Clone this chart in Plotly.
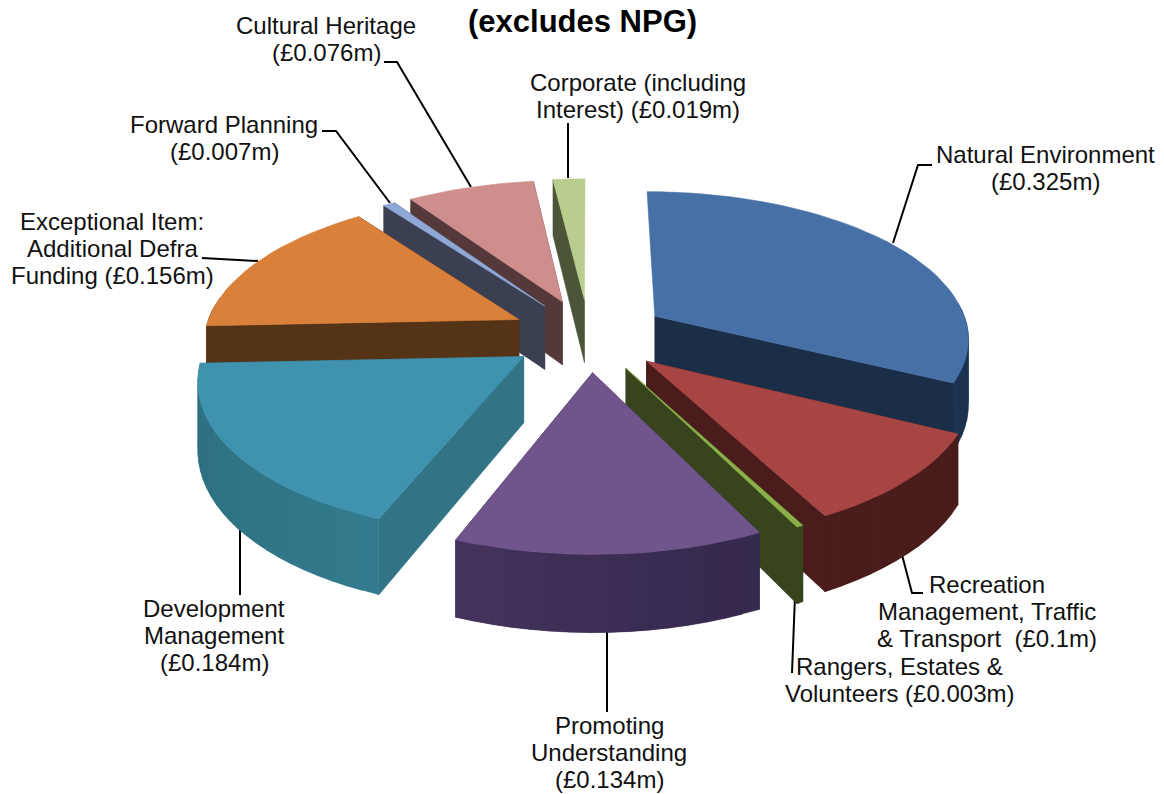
import math
import plotly.graph_objects as go

categories = ["Natural Environment", "Recreation Management, Traffic & Transport",
              "Rangers, Estates & Volunteers", "Promoting Understanding",
              "Development Management", "Exceptional Item: Additional Defra Funding",
              "Forward Planning", "Cultural Heritage", "Corporate (including Interest)"]
values = [0.325, 0.1, 0.003, 0.134, 0.184, 0.156, 0.007, 0.076, 0.019]
top_colors = ["#4670A6", "#A64543", "#8BB04A", "#6F558C", "#3F93AE", "#D9803A", "#8FA8D6", "#CD8E8C", "#B9CE8E"]
wall_light = ["#1A2E48", "#4A1C1B", "#38441D", "#4F3A6B", "#3F92AD", "#543317", "#3A4052", "#55393A", "#4D5538"]
wall_dark = ["#1C3350", "#4A1C1B", "#38441D", "#2A2240", "#2E7080", "#543317", "#3A4052", "#55393A", "#4D5538"]
cut_colors = ["#1A2E48", "#4A1C1B", "#38441D", "#3B2F55", "#327486", "#543317", "#3A4052", "#55393A", "#4D5538"]
label_lines = [["Natural Environment", "(£0.325m)"],
               ["Recreation", "Management, Traffic", "&amp; Transport  (£0.1m)"],
               ["Rangers, Estates &amp;", "Volunteers (£0.003m)"],
               ["Promoting", "Understanding", "(£0.134m)"],
               ["Development", "Management", "(£0.184m)"],
               ["Exceptional Item:", "Additional Defra", "Funding (£0.156m)"],
               ["Forward Planning", "(£0.007m)"],
               ["Cultural Heritage", "(£0.076m)"],
               ["Corporate (including", "Interest) (£0.019m)"]]
label_xy = [(1045, 154), (987, 584), (899, 666), (609, 725), (214, 608),
            (112, 221), (224, 124), (326, 25), (638, 82)]
leaders = [[(932, 165), (918, 165), (893, 243)],
           [(923, 593), (912, 593), (901, 551)],
           [(792, 673), (795, 596)],
           [(607, 712), (607, 626)],
           [(240, 595), (240, 520)],
           [(202, 258), (258, 261)],
           [(322, 131), (336, 131), (390, 203)],
           [(384, 62), (397, 62), (471, 187)],
           [(568, 123), (568, 178)]]

CX, CY = 589, 335
SX, SY, K, H, EXPL = 315, 146, 0.135, 65, 0.25
LINE_STEP = 27.4


def project(gx, gy, z):
    w = 1 / (1 + K * gy)
    return CX + SX * gx * w, CY - SY * gy * w + H * (1 - z) * w


def mix(a, b, t):
    ca = [int(a[i:i + 2], 16) for i in (1, 3, 5)]
    cb = [int(b[i:i + 2], 16) for i in (1, 3, 5)]
    return "#%02X%02X%02X" % tuple(round(x + (y - x) * t) for x, y in zip(ca, cb))


fig = go.Figure()


def poly(pts, color, lw=0.6):
    fig.add_trace(go.Scatter(x=[p[0] for p in pts] + [pts[0][0]], y=[p[1] for p in pts] + [pts[0][1]],
                             mode="lines", fill="toself", fillcolor=color,
                             line=dict(color=color, width=lw), hoverinfo="skip", showlegend=False))


# leader lines go underneath the wedges, so they stop at the wedge edge
for pts in leaders:
    fig.add_trace(go.Scatter(x=[p[0] for p in pts], y=[p[1] for p in pts], mode="lines",
                             line=dict(color="#000000", width=2), hoverinfo="skip", showlegend=False))

total = sum(values)
wedges = []
a = 0.0
for i, v in enumerate(values):
    b = a + v / total * 2 * math.pi
    mid = (a + b) / 2
    wedges.append((i, a, b, EXPL * math.sin(mid), EXPL * math.cos(mid)))
    a = b

for i, a, b, ox, oy in sorted(wedges, key=lambda w: -w[4]):
    n = max(2, int((b - a) / 0.05))
    angs = [a + (b - a) * j / n for j in range(n + 1)]
    rim = [(ox + math.sin(t), oy + math.cos(t)) for t in angs]
    apex = (ox, oy)
    # radial cut faces; a face seen almost edge-on from behind is left out
    for edge in sorted([rim[0], rim[-1]], key=lambda e: -e[1]):
        pa, pe = project(*apex, 1), project(*edge, 1)
        if pe[1] < pa[1] and abs(pe[0] - pa[0]) < 14:
            continue
        poly([pa, pe, project(*edge, 0), project(*apex, 0)], cut_colors[i])
    # outer wall, only the part that faces the viewer; each strip overlaps the next
    for j in range(n):
        tm = (angs[j] + angs[j + 1]) / 2
        if math.cos(tm) < 0.12:
            t = (math.sin(tm) + 1) / 2
            col = mix(wall_dark[i], wall_light[i], t) if i == 4 else mix(wall_light[i], wall_dark[i], t)
            k = min(j + 2, n)
            strip = [project(*rim[m], 1) for m in range(j, k + 1)] + [project(*rim[m], 0) for m in range(k, j - 1, -1)]
            poly(strip, col, 0.3)
    poly([project(*apex, 1)] + [project(*p, 1) for p in rim], top_colors[i])

anns = []
for lines, (x, y0) in zip(label_lines, label_xy):
    for n, line in enumerate(lines):
        anns.append(dict(x=x, y=y0 + n * LINE_STEP, text=line, showarrow=False, xanchor="center", yanchor="middle",
                         font=dict(family="Liberation Sans", size=24, color="#111111")))
anns.append(dict(x=582, y=21, text="<b>(excludes NPG)</b>", showarrow=False, xanchor="center", yanchor="middle",
                 font=dict(family="Liberation Sans", size=31, color="#000000")))

fig.update_layout(width=1164, height=794, margin=dict(l=0, r=0, t=0, b=0), autosize=False,
                  paper_bgcolor="#FFFFFF", plot_bgcolor="#FFFFFF", showlegend=False, annotations=anns,
                  xaxis=dict(range=[0, 1164], visible=False, fixedrange=True),
                  yaxis=dict(range=[794, 0], visible=False, fixedrange=True))
fig.write_html("out.html", config=dict(displayModeBar=False),
               post_script="document.body.style.margin='0';document.body.style.overflow='hidden';")
